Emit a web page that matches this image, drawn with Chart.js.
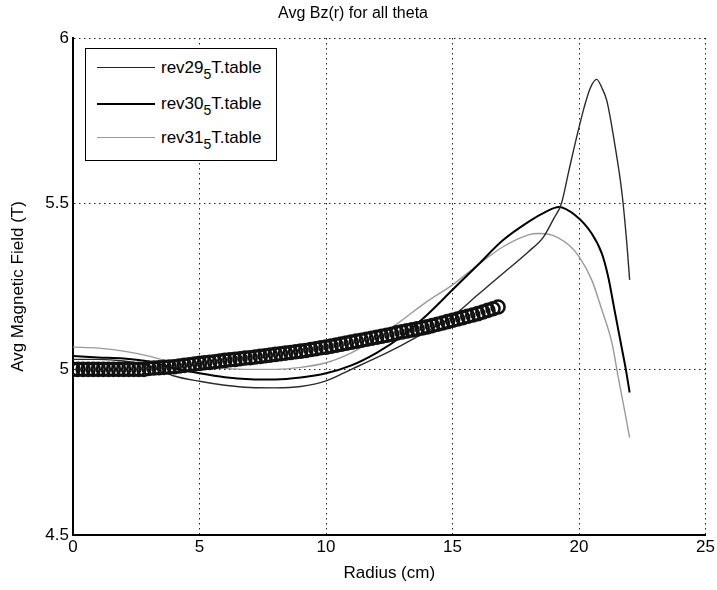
<!DOCTYPE html>
<html>
<head>
<meta charset="utf-8">
<script src="https://cdn.jsdelivr.net/npm/chart.js@4.4.1/dist/chart.umd.min.js"></script>
<style>
  body { margin: 0; background: #fff; }
  #wrap { position: relative; width: 717px; height: 590px; }
  #legendBox {
    position: absolute; left: 85px; top: 48px; width: 190px; height: 111px;
    border: 1.5px solid #000; background: #fff;
    font-family: "Liberation Sans", Arial, sans-serif; font-size: 17px; color: #000;
  }
  .row { position: absolute; left: 0; height: 20px; }
  .row .ln { position: absolute; left: 11px; width: 58px; top: 9px; }
  .row .tx { position: absolute; left: 75px; top: 0; white-space: nowrap; line-height: 20px; }
  .row sub { font-size: 14px; vertical-align: -6px; line-height: 0; }
</style>
</head>
<body>
<div id="wrap">
  <canvas id="chart" width="717" height="590"></canvas>
  <div id="legendBox">
    <div class="row" style="top:9px"><div class="ln" style="border-top:1.3px solid #222"></div><span class="tx">rev29<sub>5</sub>T.table</span></div>
    <div class="row" style="top:45px"><div class="ln" style="border-top:2px solid #000"></div><span class="tx">rev30<sub>5</sub>T.table</span></div>
    <div class="row" style="top:79px"><div class="ln" style="border-top:1.3px solid #999"></div><span class="tx">rev31<sub>5</sub>T.table</span></div>
  </div>
</div>
<script>
// --- data ---
const rev29R = [0, 1, 2, 3, 4, 5, 6, 7, 8, 9, 10, 11, 12, 13, 14, 15, 16, 17, 18, 18.6, 19, 19.3, 19.6, 19.95, 20.2, 20.45, 20.7, 20.9, 21.1, 21.4, 21.7, 21.9, 22];
const rev29B = [5.03, 5.03, 5.025, 5.01, 4.98, 4.964, 4.952, 4.945, 4.944, 4.948, 4.965, 5.0, 5.035, 5.073, 5.115, 5.16, 5.225, 5.29, 5.355, 5.40, 5.455, 5.50, 5.60, 5.715, 5.79, 5.85, 5.875, 5.85, 5.81, 5.685, 5.53, 5.37, 5.27];

const rev30R = [0, 1, 2, 3, 4, 5, 6, 7, 8, 9, 10, 11, 12, 13, 14, 15, 16, 17, 18, 18.7, 19.2, 19.85, 20.5, 20.9, 21.15, 21.4, 21.7, 21.85, 22];
const rev30B = [5.04, 5.036, 5.033, 5.024, 5.003, 4.988, 4.976, 4.97, 4.969, 4.975, 4.988, 5.012, 5.05, 5.10, 5.165, 5.24, 5.315, 5.39, 5.445, 5.476, 5.49, 5.465, 5.41, 5.35, 5.28, 5.18, 5.06, 5.0, 4.93];

const rev31R = [0, 1, 2, 3, 4, 5, 6, 7, 8, 9, 10, 11, 12, 13, 14, 15, 16, 17, 18, 18.4, 18.9, 19.6, 20, 20.5, 20.9, 21.3, 21.55, 21.8, 22];
const rev31B = [5.067, 5.064, 5.055, 5.04, 5.02, 5.01, 5.003, 5.0, 5.0, 5.006, 5.02, 5.05, 5.094, 5.148, 5.205, 5.255, 5.315, 5.37, 5.406, 5.41, 5.406, 5.375, 5.34, 5.27, 5.18, 5.08, 4.976, 4.876, 4.794];

// circle markers (measured field)
const measR = [0, 0.2, 0.4, 0.6, 0.8, 1, 1.2, 1.4, 1.6, 1.8, 2, 2.2, 2.4, 2.6, 2.8, 3, 3.2, 3.4, 3.6, 3.8,
  4, 4.2, 4.4, 4.6, 4.8, 5, 5.2, 5.4, 5.6, 5.8, 6, 6.2, 6.4, 6.6, 6.8, 7, 7.2, 7.4, 7.6, 7.8,
  8, 8.2, 8.4, 8.6, 8.8, 9, 9.2, 9.4, 9.6, 9.8, 10, 10.2, 10.4, 10.6, 10.8, 11, 11.2, 11.4, 11.6, 11.8,
  12, 12.2, 12.4, 12.6, 12.8, 13, 13.2, 13.4, 13.6, 13.8, 14, 14.2, 14.4, 14.6, 14.8, 15, 15.2, 15.4, 15.6, 15.8,
  16, 16.2, 16.4, 16.6, 16.8];
const measB = [5.0, 5.0, 5.0, 5.0, 5.0, 5.0, 5.0, 5.0, 5.0, 5.0, 5.0, 5.0, 5.0, 5.0, 5.0, 5.003, 5.004, 5.005, 5.006, 5.007,
  5.008, 5.010, 5.012, 5.014, 5.016, 5.018, 5.020, 5.021, 5.023, 5.025, 5.027, 5.029, 5.030, 5.032, 5.034, 5.035, 5.037, 5.039, 5.041, 5.043,
  5.045, 5.047, 5.049, 5.051, 5.053, 5.055, 5.057, 5.060, 5.062, 5.065, 5.067, 5.070, 5.073, 5.076, 5.079, 5.082, 5.085, 5.088, 5.091, 5.094,
  5.097, 5.100, 5.103, 5.106, 5.110, 5.113, 5.116, 5.119, 5.122, 5.125, 5.128, 5.132, 5.136, 5.140, 5.144, 5.148, 5.152, 5.156, 5.160, 5.164,
  5.168, 5.173, 5.178, 5.183, 5.188];

const xTicks = [0, 5, 10, 15, 20, 25];
const yTicks = [4.5, 5, 5.5, 6];

const pts = (xs, ys) => xs.map((x, i) => ({ x, y: ys[i] }));
const FONT = "'Liberation Sans', Arial, sans-serif";

new Chart(document.getElementById('chart'), {
    type: 'scatter',
    data: {
        datasets: [
            { label: 'measured', data: pts(measR, measB), showLine: false, pointStyle: 'circle', pointRadius: 6.5, pointBorderWidth: 2.6, pointBorderColor: '#111', pointBackgroundColor: 'rgba(0,0,0,0)' },
            { label: 'rev29_5T.table', data: pts(rev29R, rev29B), showLine: true, borderColor: '#2a2a2a', borderWidth: 1.4, pointRadius: 0, cubicInterpolationMode: 'monotone' },
            { label: 'rev30_5T.table', data: pts(rev30R, rev30B), showLine: true, borderColor: '#000', borderWidth: 2, pointRadius: 0, cubicInterpolationMode: 'monotone' },
            { label: 'rev31_5T.table', data: pts(rev31R, rev31B), showLine: true, borderColor: '#9a9a9a', borderWidth: 1.4, pointRadius: 0, cubicInterpolationMode: 'monotone' }
        ]
    },
    options: {
        responsive: false,
        animation: false,
        layout: { padding: { left: 0, right: 11, top: 0, bottom: 0 } },
        plugins: {
            legend: { display: false },
            tooltip: { enabled: false },
            title: {
                display: true, text: 'Avg Bz(r) for all theta', color: '#000',
                font: { family: FONT, size: 16, weight: 'normal' },
                padding: { top: 4, bottom: 14.8 }
            }
        },
        scales: {
            x: {
                type: 'linear', min: 0, max: 25,
                afterBuildTicks: s => { s.ticks = xTicks.map(v => ({ value: v })); },
                afterFit: s => { s.height = 55; },
                ticks: { color: '#000', font: { family: FONT, size: 17 }, padding: 2 },
                grid: { color: '#222', lineWidth: 1, drawTicks: false },
                border: { display: true, color: '#000', width: 2, dash: [1.5, 3.5] },
                title: { display: true, text: 'Radius (cm)', color: '#000', font: { family: FONT, size: 17 }, padding: { top: 0, bottom: 6 } }
            },
            y: {
                type: 'linear', min: 4.5, max: 6,
                afterBuildTicks: s => { s.ticks = yTicks.map(v => ({ value: v })); },
                afterFit: s => { s.width = 73; },
                ticks: { color: '#000', font: { family: FONT, size: 17 }, padding: 4, callback: v => String(v) },
                grid: { color: '#222', lineWidth: 1, drawTicks: false },
                border: { display: true, color: '#000', width: 2, dash: [1.5, 3.5] },
                title: { display: true, text: 'Avg Magnetic Field (T)', color: '#000', font: { family: FONT, size: 17 }, padding: { top: 8, bottom: 0 } }
            }
        }
    }
});
</script>
</body>
</html>
